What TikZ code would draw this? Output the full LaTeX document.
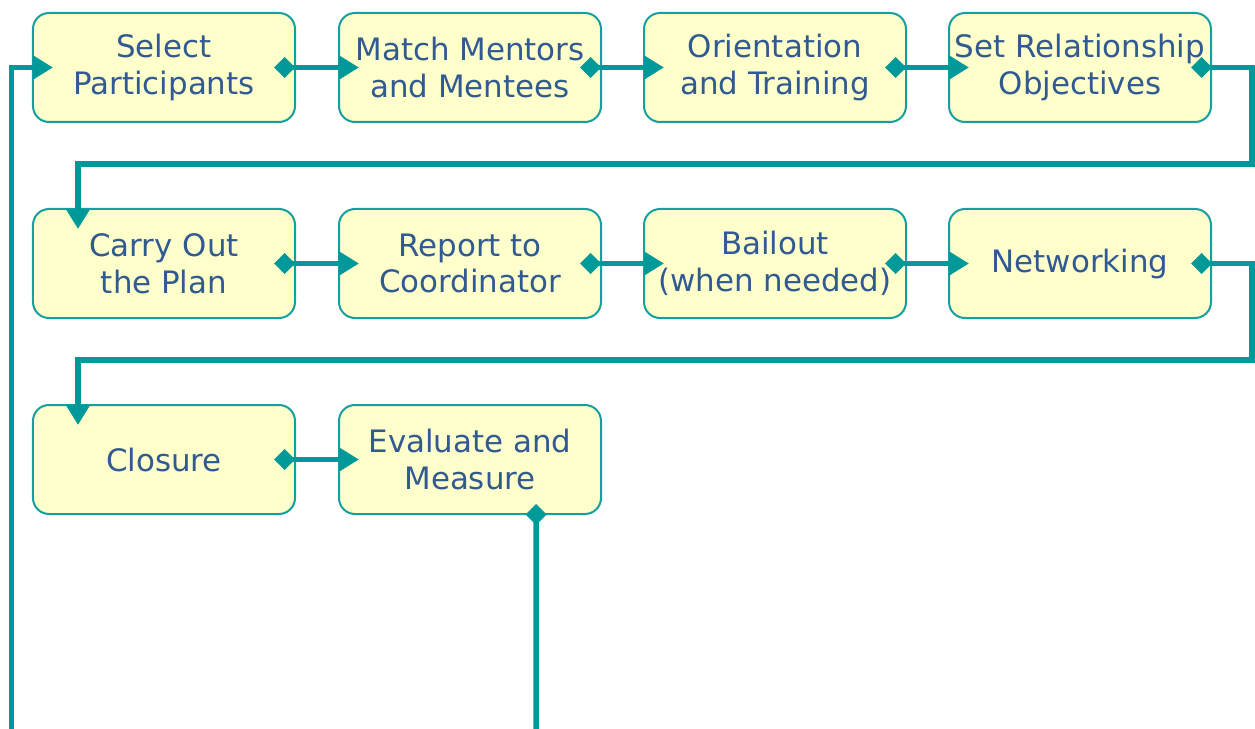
\documentclass[tikz,border=0pt]{standalone}
\usepackage{fontspec}
\setmainfont{DejaVu Sans}
\usetikzlibrary{arrows.meta}
\definecolor{lineteal}{RGB}{0,153,153}
\definecolor{edgeteal}{RGB}{20,160,160}
\definecolor{boxfill}{RGB}{255,255,204}
\definecolor{labelblue}{RGB}{48,90,145}
\begin{document}
\begin{tikzpicture}[x=1bp,y=-1bp,
  stepbox/.style={draw=edgeteal, line width=2bp, fill=boxfill,
    rounded corners=16bp, minimum width=262bp, minimum height=109bp,
    inner sep=0pt, align=center, text=labelblue,
    font=\fontsize{31}{37}\selectfont},
  flow/.style={draw=lineteal, line width=5.5bp,
    {Diamond[length=21bp,width=21bp]}-{Triangle[length=20bp,width=23bp]}},
  flowstart/.style={draw=lineteal, line width=5.5bp,
    {Diamond[length=21bp,width=21bp]}-},
  flowend/.style={draw=lineteal, line width=5.5bp,
    -{Triangle[length=20bp,width=23bp]}},
]
\useasboundingbox (0,0) rectangle (1255,729);

% row 1
\node[stepbox] (n1) at (164,67.5) {Select\\Participants};
\node[stepbox] (n2) at (470,67.5) {Match Mentors\\and Mentees};
\node[stepbox] (n3) at (775,67.5) {Orientation\\and Training};
\node[stepbox] (n4) at (1080,67.5) {Set Relationship\\Objectives};
% row 2
\node[stepbox] (n5) at (164,263.5) {Carry Out\\the Plan};
\node[stepbox] (n6) at (470,263.5) {Report to\\Coordinator};
\node[stepbox] (n7) at (775,263.5) {Bailout\\(when needed)};
\node[stepbox] (n8) at (1080,263.5) {Networking};
% row 3
\node[stepbox] (n9) at (164,459.5) {Closure};
\node[stepbox] (n10) at (470,459.5) {Evaluate and\\Measure};

% turning points of the return paths
\coordinate (wrap1) at (1252,164);
\coordinate (wrap2) at (1252,360);
\coordinate (bottomR) at (536,729);
\coordinate (bottomL) at (11.5,729);

% straight links within a row
\foreach \a/\b in {n1/n2,n2/n3,n3/n4,n5/n6,n6/n7,n7/n8,n9/n10}
  \draw[flow] ([xshift=-22bp]\a.east) -- ([xshift=21bp]\b.west);

% links from one row to the next
\draw[flow] ([xshift=-21bp]n4.east) -| (wrap1)
  -| ([xshift=-86bp,yshift=-21bp]n5.north);
\draw[flow] ([xshift=-21bp]n8.east) -| (wrap2)
  -| ([xshift=-86bp,yshift=-21bp]n9.north);

% loop back to the start
\draw[flowstart] ([xshift=66bp,yshift=11bp]n10.south) -- (bottomR);
\draw[flowend] (bottomL) |- ([xshift=21bp]n1.west);
\end{tikzpicture}
\end{document}
